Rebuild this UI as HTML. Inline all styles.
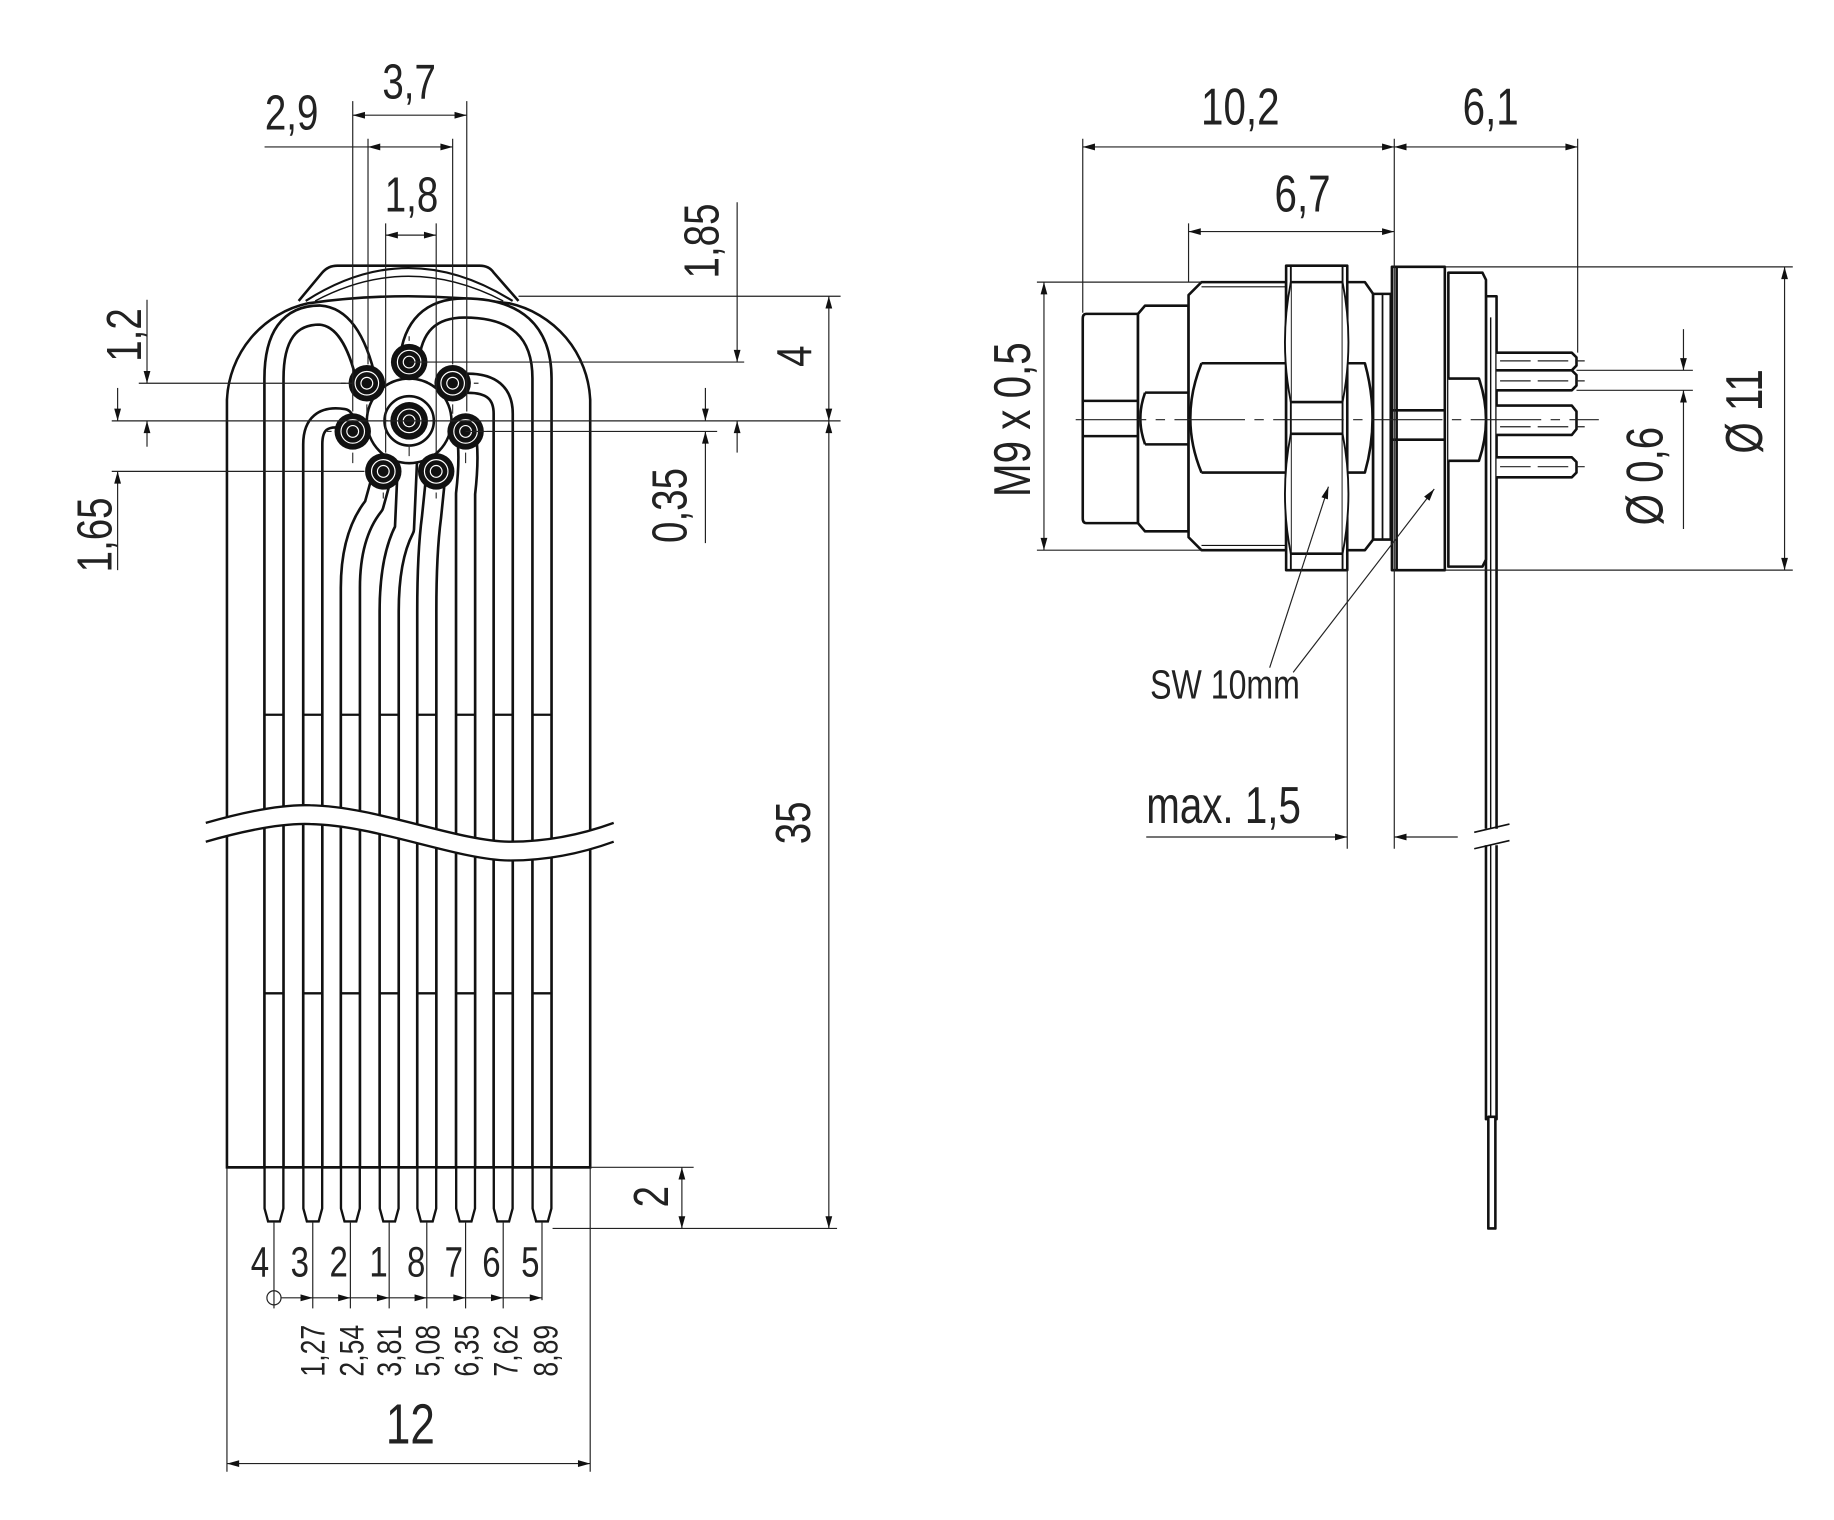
<!DOCTYPE html>
<html><head><meta charset="utf-8">
<style>
html,body{margin:0;padding:0;background:#fff;}
svg{display:block;}
text{font-family:"Liberation Sans",sans-serif;fill:#222;}
</style></head>
<body>
<svg width="1834" height="1520" viewBox="0 0 1560 1293" xmlns="http://www.w3.org/2000/svg">
<defs>
<marker id="a" viewBox="-14 -5 16 10" refX="0" refY="0" markerWidth="14" markerHeight="8" markerUnits="userSpaceOnUse" orient="auto-start-reverse">
<path d="M0,0 L-13,-3.6 L-13,3.6 Z" fill="#111"/>
</marker>
</defs>
<rect width="1560" height="1293" fill="#fff"/>

<!-- ================= LEFT VIEW ================= -->
<g fill="none" stroke="#111" stroke-width="2.2">
  <path d="M254,256 L274,232 Q279,226 287,226 L408,226 Q416,226 420,232 L441,256" />
  <path d="M260,256 Q347,200 436,256" stroke-width="1.8"/>
  <path d="M268,256 Q347,214 428,256" stroke-width="1.2"/>
  <path d="M193,993 V340 A88,88 0 0 1 262,258 Q347,246 433,258 A88,88 0 0 1 502,340 V993 Z"/>
</g>

<g fill="none" stroke-linecap="butt" stroke-linejoin="round">
 <g stroke="#111" stroke-width="18.5">
  <path d="M233,993 V322 Q233,268 272,268 Q300,270 312,326"/>
  <path d="M266,993 V378 Q266,352 292,356 L300,367"/>
  <path d="M298,993 V500 Q298,455 318,430 L326,401"/>
  <path d="M331,993 V520 Q331,475 344,450 L348,360"/>
  <path d="M363,993 V520 Q363,470 367,440 L371,401"/>
  <path d="M396,993 V420 Q400,385 396,367"/>
  <path d="M428,993 V352 Q428,326 398,326 L385,326"/>
  <path d="M461,993 V322 Q461,262 395,262 Q352,262 348,308"/>
 </g>
 <g stroke="#fff" stroke-width="14">
  <path d="M233,995 V322 Q233,268 272,268 Q300,270 312,326"/>
  <path d="M266,995 V378 Q266,352 292,356 L300,367"/>
  <path d="M298,995 V500 Q298,455 318,430 L326,401"/>
  <path d="M331,995 V520 Q331,475 344,450 L348,360"/>
  <path d="M363,995 V520 Q363,470 367,440 L371,401"/>
  <path d="M396,995 V420 Q400,385 396,367"/>
  <path d="M428,995 V352 Q428,326 398,326 L385,326"/>
  <path d="M461,995 V322 Q461,262 395,262 Q352,262 348,308"/>
 </g>
</g>
<g stroke="#111" stroke-width="2">
  <path d="M225,608h16M258,608h16M290,608h16M323,608h16M355,608h16M388,608h16M420,608h16M453,608h16"/>
  <path d="M225,845h16M258,845h16M290,845h16M323,845h16M355,845h16M388,845h16M420,845h16M453,845h16"/>
</g>
<circle cx="348" cy="358" r="36" fill="#fff" stroke="#111" stroke-width="2.2"/>
<circle cx="348" cy="358" r="21" fill="#fff" stroke="#111" stroke-width="2.2"/>
<g>
 <g fill="#111">
  <circle cx="348" cy="308" r="15.5"/><circle cx="312" cy="326" r="15.5"/><circle cx="385" cy="326" r="15.5"/>
  <circle cx="300" cy="367" r="15.5"/><circle cx="396" cy="367" r="15.5"/><circle cx="326" cy="401" r="15.5"/>
  <circle cx="371" cy="401" r="15.5"/><circle cx="348" cy="358" r="16"/>
 </g>
 <g fill="none" stroke="#fff" stroke-width="1">
  <circle cx="348" cy="308" r="5"/><circle cx="312" cy="326" r="5"/><circle cx="385" cy="326" r="5"/>
  <circle cx="300" cy="367" r="5"/><circle cx="396" cy="367" r="5"/><circle cx="326" cy="401" r="5"/>
  <circle cx="371" cy="401" r="5"/><circle cx="348" cy="358" r="5"/>
  <circle cx="348" cy="308" r="10"/><circle cx="312" cy="326" r="10"/><circle cx="385" cy="326" r="10"/>
  <circle cx="300" cy="367" r="10"/><circle cx="396" cy="367" r="10"/><circle cx="326" cy="401" r="10"/>
  <circle cx="371" cy="401" r="10"/><circle cx="348" cy="358" r="10"/>
 </g>
</g>
<path d="M175,700 C210,690 240,684 264,685 C320,686 390,716 434,716 C470,716 500,708 522,700 L522,716 C500,724 470,732 434,732 C390,732 320,702 264,701 C240,700 210,706 175,716 Z" fill="#fff"/>
<g fill="none" stroke="#111" stroke-width="2">
<path d="M175,700 C210,690 240,684 264,685 C320,686 390,716 434,716 C470,716 500,708 522,700"/>
<path d="M175,716 C210,706 240,700 264,701 C320,702 390,732 434,732 C470,732 500,724 522,716"/>
</g>
<g fill="#fff" stroke="#111" stroke-width="2.2">
  <line x1="193" y1="993" x2="502" y2="993"/>
</g>
<g fill="#fff" stroke="#111" stroke-width="2">
 <path d="M225,994 V1028 L228,1039 H238 L241,1028 V994"/>
 <path d="M258,994 V1028 L261,1039 H271 L274,1028 V994"/>
 <path d="M290,994 V1028 L293,1039 H303 L306,1028 V994"/>
 <path d="M323,994 V1028 L326,1039 H336 L339,1028 V994"/>
 <path d="M355,994 V1028 L358,1039 H368 L371,1028 V994"/>
 <path d="M388,994 V1028 L391,1039 H401 L404,1028 V994"/>
 <path d="M420,994 V1028 L423,1039 H433 L436,1028 V994"/>
 <path d="M453,994 V1028 L456,1039 H466 L469,1028 V994"/>
</g>

<g stroke="#333" stroke-width="1" fill="none">
 <path d="M348,286 V290 M348,378 V388 M326,358 H330 M366,358 H370 M290,326 H294 M403,326 H407 M278,367 H282 M414,367 H418 M326,419 V424 M371,419 V424 M312,344 V352 M385,344 V352 M300,385 V394 M396,385 V394"/>
</g>

<g stroke="#222" stroke-width="1" fill="none">
 <line x1="300" y1="86" x2="300" y2="350"/>
 <line x1="397" y1="86" x2="397" y2="350"/>
 <line x1="313" y1="118" x2="313" y2="310"/>
 <line x1="385" y1="118" x2="385" y2="310"/>
 <line x1="328" y1="190" x2="328" y2="385"/>
 <line x1="371" y1="190" x2="371" y2="385"/>
 <line x1="300" y1="98" x2="397" y2="98" marker-start="url(#a)" marker-end="url(#a)"/>
 <line x1="225" y1="125" x2="313" y2="125"/>
 <line x1="313" y1="125" x2="385" y2="125" marker-start="url(#a)" marker-end="url(#a)"/>
 <line x1="328" y1="200" x2="371" y2="200" marker-start="url(#a)" marker-end="url(#a)"/>
 <line x1="441" y1="252" x2="715" y2="252"/>
 <line x1="348" y1="308" x2="633" y2="308"/>
 <line x1="118" y1="326" x2="300" y2="326"/>
 <line x1="95" y1="358" x2="715" y2="358"/>
 <line x1="396" y1="367" x2="610" y2="367"/>
 <line x1="95" y1="401" x2="310" y2="401"/>
 <line x1="627" y1="172" x2="627" y2="308" marker-end="url(#a)"/>
 <line x1="627" y1="385" x2="627" y2="358" marker-end="url(#a)"/>
 <line x1="600" y1="330" x2="600" y2="358" marker-end="url(#a)"/>
 <line x1="600" y1="462" x2="600" y2="367" marker-end="url(#a)"/>
 <line x1="705" y1="252" x2="705" y2="358" marker-start="url(#a)" marker-end="url(#a)"/>
 <line x1="705" y1="358" x2="705" y2="1045" marker-start="url(#a)" marker-end="url(#a)"/>
 <line x1="125" y1="255" x2="125" y2="326" marker-end="url(#a)"/>
 <line x1="125" y1="380" x2="125" y2="358" marker-end="url(#a)"/>
 <line x1="100" y1="330" x2="100" y2="358" marker-end="url(#a)"/>
 <line x1="100" y1="485" x2="100" y2="401" marker-end="url(#a)"/>
 <line x1="502" y1="993" x2="590" y2="993"/>
 <line x1="470" y1="1045" x2="712" y2="1045"/>
 <line x1="580" y1="993" x2="580" y2="1045" marker-start="url(#a)" marker-end="url(#a)"/>
 <line x1="233" y1="1040" x2="233" y2="1113"/>
 <line x1="266" y1="1040" x2="266" y2="1113"/>
 <line x1="298" y1="1040" x2="298" y2="1113"/>
 <line x1="331" y1="1040" x2="331" y2="1113"/>
 <line x1="363" y1="1040" x2="363" y2="1113"/>
 <line x1="396" y1="1040" x2="396" y2="1113"/>
 <line x1="428" y1="1040" x2="428" y2="1113"/>
 <line x1="461" y1="1040" x2="461" y2="1106"/>
 <circle cx="233" cy="1104" r="6"/>
 <line x1="239" y1="1104" x2="266" y2="1104" marker-end="url(#a)"/>
 <line x1="266" y1="1104" x2="298" y2="1104" marker-end="url(#a)"/>
 <line x1="298" y1="1104" x2="331" y2="1104" marker-end="url(#a)"/>
 <line x1="331" y1="1104" x2="363" y2="1104" marker-end="url(#a)"/>
 <line x1="363" y1="1104" x2="396" y2="1104" marker-end="url(#a)"/>
 <line x1="396" y1="1104" x2="428" y2="1104" marker-end="url(#a)"/>
 <line x1="428" y1="1104" x2="461" y2="1104" marker-end="url(#a)"/>
 <line x1="193" y1="994" x2="193" y2="1252"/>
 <line x1="502" y1="994" x2="502" y2="1252"/>
 <line x1="193" y1="1245" x2="502" y2="1245" marker-start="url(#a)" marker-end="url(#a)"/>
</g>

<g font-size="42">
 <text transform="translate(248,110) scale(0.78,1)" text-anchor="middle">2,9</text>
 <text transform="translate(348,84) scale(0.78,1)" text-anchor="middle">3,7</text>
 <text transform="translate(350,180) scale(0.78,1)" text-anchor="middle">1,8</text>
 <text transform="translate(611,205) rotate(-90) scale(0.78,1)" text-anchor="middle">1,85</text>
 <text transform="translate(690,303) rotate(-90) scale(0.78,1)" text-anchor="middle">4</text>
 <text transform="translate(120,285) rotate(-90) scale(0.78,1)" text-anchor="middle">1,2</text>
 <text transform="translate(95,455) rotate(-90) scale(0.78,1)" text-anchor="middle">1,65</text>
 <text transform="translate(584,430) rotate(-90) scale(0.78,1)" text-anchor="middle">0,35</text>
 <text transform="translate(689,700) rotate(-90) scale(0.78,1)" text-anchor="middle">35</text>
 <text transform="translate(568,1018) rotate(-90) scale(0.78,1)" text-anchor="middle">2</text>
 <text transform="translate(349,1228) scale(0.78,1)" text-anchor="middle" font-size="48">12</text>
</g>
<g font-size="36">
 <text transform="translate(221,1086) scale(0.78,1)" text-anchor="middle">4</text>
 <text transform="translate(255,1086) scale(0.78,1)" text-anchor="middle">3</text>
 <text transform="translate(288,1086) scale(0.78,1)" text-anchor="middle">2</text>
 <text transform="translate(322,1086) scale(0.78,1)" text-anchor="middle">1</text>
 <text transform="translate(354,1086) scale(0.78,1)" text-anchor="middle">8</text>
 <text transform="translate(386,1086) scale(0.78,1)" text-anchor="middle">7</text>
 <text transform="translate(418,1086) scale(0.78,1)" text-anchor="middle">6</text>
 <text transform="translate(451,1086) scale(0.78,1)" text-anchor="middle">5</text>
</g>
<g font-size="29">
 <text transform="translate(276,1149) rotate(-90) scale(0.78,1)" text-anchor="middle">1,27</text>
 <text transform="translate(309,1149) rotate(-90) scale(0.78,1)" text-anchor="middle">2,54</text>
 <text transform="translate(341,1149) rotate(-90) scale(0.78,1)" text-anchor="middle">3,81</text>
 <text transform="translate(374,1149) rotate(-90) scale(0.78,1)" text-anchor="middle">5,08</text>
 <text transform="translate(407,1149) rotate(-90) scale(0.78,1)" text-anchor="middle">6,35</text>
 <text transform="translate(440,1149) rotate(-90) scale(0.78,1)" text-anchor="middle">7,62</text>
 <text transform="translate(474,1149) rotate(-90) scale(0.78,1)" text-anchor="middle">8,89</text>
</g>

<!-- ================= RIGHT VIEW ================= -->
<g fill="#fff" stroke="#111" stroke-width="2.2" stroke-linejoin="round">
 <rect x="1264" y="252" width="9" height="700"/>
 <rect x="1266" y="950" width="6" height="95"/>
 <line x1="1268" y1="270" x2="1268" y2="950" stroke-width="1.2"/>
 <path d="M924,267 H968 V445 H924 Q921,445 921,441 V271 Q921,267 924,267 Z"/>
 <path d="M921,341 H968 M921,371 H968"/>
 <path d="M968,267 L974,260 H1011 V452 H974 L968,445 Z"/>
 <path d="M974,334 H1011 M974,378 H1011 M974,334 Q966,356 974,378"/>
 <path d="M1011,251 L1022,240 H1094 V468 H1022 L1011,457 Z"/>
 <path d="M1022,309 H1094 M1022,402 H1094 M1022,309 Q1003,356 1022,402"/>
 <path d="M1022,244 H1094 M1022,464 H1094" stroke-width="1"/>
 <path d="M1145,240 H1161 L1168,250 V459 L1161,468 H1145 Z"/>
 <path d="M1145,309 H1161 Q1174,356 1161,402 H1145"/>
 <rect x="1168" y="250" width="15" height="209"/>
 <line x1="1176" y1="250" x2="1176" y2="459" stroke-width="1.5"/>
 <rect x="1094" y="226" width="52" height="259"/>
 <path d="M1098,226 V485 M1142,226 V485" stroke-width="1.6"/>
 <path d="M1098,240 H1142 M1098,471 H1142 M1098,342 H1142 M1098,369 H1142"/>
 <path d="M1098,240 Q1088,291 1098,342 M1142,240 Q1152,291 1142,342 M1098,369 Q1088,420 1098,471 M1142,369 Q1152,420 1142,471" stroke-width="1.6"/>
 <rect x="1184" y="227" width="45" height="258"/>
 <path d="M1184,349 H1229 M1184,374 H1229 M1188,227 V485"/>
 <path d="M1232,232 H1261 L1264,238 V476 L1261,482 H1232 Z"/>
 <path d="M1232,322 H1258 Q1270,357 1258,392 H1232"/>
 <path d="M1273,300 H1337 L1341,304 V311 L1337,315 H1273"/>
 <path d="M1273,315 H1337 L1341,319 V328 L1337,332 H1273"/>
 <path d="M1273,345 H1337 L1341,350 V365 L1337,370 H1273"/>
 <path d="M1273,389 H1337 L1341,393 V402 L1337,406 H1273"/>
</g>
<g stroke="#222" stroke-width="1" fill="none">
 <path d="M1276,307 H1348 M1276,324 H1348 M1276,363 H1348 M1276,397 H1348" stroke-dasharray="26,6"/>
 <path d="M915,357 H1360" stroke-dasharray="60,8,8,8"/>
</g>
<rect x="1258" y="705" width="20" height="14" fill="#fff"/>
<g stroke="#111" stroke-width="1.4">
 <line x1="1254" y1="708" x2="1284" y2="701"/>
 <line x1="1254" y1="722" x2="1284" y2="715"/>
</g>

<g stroke="#222" stroke-width="1" fill="none">
 <line x1="921" y1="118" x2="921" y2="266"/>
 <line x1="1011" y1="190" x2="1011" y2="240"/>
 <line x1="1186" y1="118" x2="1186" y2="722"/>
 <line x1="1342" y1="118" x2="1342" y2="300"/>
 <line x1="1146" y1="485" x2="1146" y2="722"/>
 <line x1="921" y1="125" x2="1186" y2="125" marker-start="url(#a)" marker-end="url(#a)"/>
 <line x1="1186" y1="125" x2="1342" y2="125" marker-start="url(#a)" marker-end="url(#a)"/>
 <line x1="1011" y1="197" x2="1186" y2="197" marker-start="url(#a)" marker-end="url(#a)"/>
 <line x1="882" y1="240" x2="1022" y2="240"/>
 <line x1="882" y1="468" x2="1022" y2="468"/>
 <line x1="888" y1="240" x2="888" y2="468" marker-start="url(#a)" marker-end="url(#a)"/>
 <line x1="1229" y1="227" x2="1525" y2="227"/>
 <line x1="1229" y1="485" x2="1525" y2="485"/>
 <line x1="1518" y1="227" x2="1518" y2="485" marker-start="url(#a)" marker-end="url(#a)"/>
 <line x1="1341" y1="315" x2="1440" y2="315"/>
 <line x1="1341" y1="332" x2="1440" y2="332"/>
 <line x1="1432" y1="280" x2="1432" y2="315" marker-end="url(#a)"/>
 <line x1="1432" y1="450" x2="1432" y2="332" marker-end="url(#a)"/>
 <line x1="975" y1="712" x2="1146" y2="712" marker-end="url(#a)"/>
 <line x1="1240" y1="712" x2="1186" y2="712" marker-end="url(#a)"/>
 <line x1="1080" y1="568" x2="1130" y2="414" marker-end="url(#a)"/>
 <line x1="1100" y1="572" x2="1220" y2="416" marker-end="url(#a)"/>
</g>
<g font-size="44">
 <text transform="translate(1055,106) scale(0.78,1)" text-anchor="middle">10,2</text>
 <text transform="translate(1268,106) scale(0.78,1)" text-anchor="middle">6,1</text>
 <text transform="translate(1108,180) scale(0.78,1)" text-anchor="middle">6,7</text>
 <text transform="translate(876,357) rotate(-90) scale(0.78,1)" text-anchor="middle">M9 x 0,5</text>
 <text transform="translate(1414,405) rotate(-90) scale(0.78,1)" text-anchor="middle">Ø 0,6</text>
 <text transform="translate(1499,350) rotate(-90) scale(0.78,1)" text-anchor="middle">Ø 11</text>
 <text transform="translate(975,700) scale(0.78,1)">max. 1,5</text>
 <text transform="translate(1042,594) scale(0.78,1)" text-anchor="middle" font-size="35">SW 10mm</text>
</g>
</svg>
</body></html>
